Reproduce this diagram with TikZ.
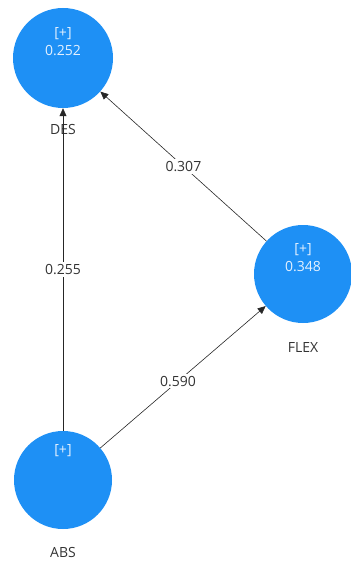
\documentclass[tikz,border=0pt]{standalone}
\usepackage{fontspec}
\setmainfont{Open Sans}
\usetikzlibrary{arrows.meta,positioning}
\definecolor{latentblue}{HTML}{1E90F5}
\definecolor{inwhite}{HTML}{E4F1FF}
\definecolor{labgray}{HTML}{333333}
\tikzset{
  latent/.style={
    circle, fill=latentblue, draw=none,
    minimum size=100pt, inner sep=0pt
  },
  intext/.style={
    font=\fontsize{14}{18}\selectfont, text=inwhite, align=center
  },
  namelabel/.style={
    font=\fontsize{14}{16}\selectfont, text=labgray
  },
  pathline/.style={
    -{Triangle[length=8pt,width=7pt]}, semithick, draw=black!85
  },
  coef/.style={
    fill=white, inner sep=2pt,
    font=\fontsize{14}{16}\selectfont, text=labgray
  },
}

\begin{document}
\begin{tikzpicture}[x=1pt,y=-1pt]
  \useasboundingbox (0,0) rectangle (350,561);
  % constructs
  \node[latent] (des) at (63,58) {};
  \node[latent, minimum size=98pt] (flex) at (303,274) {};
  \node[latent, minimum size=98pt] (abs) at (63,480) {};
  \node[intext] at ([yshift=16pt]des.center) {[+]\\[0pt]0.252};
  \node[intext] at ([yshift=16pt]flex.center) {[+]\\[0pt]0.348};
  \node[intext] at ([yshift=29pt]abs.center) {[+]};
  \node[namelabel, below=13pt of des.south] (desname) {DES};
  \node[namelabel, below=16pt of flex.south] (flexname) {FLEX};
  \node[namelabel, below=15pt of abs.south] (absname) {ABS};
  % paths
  \draw[pathline] (abs) -- node[coef] {0.255} (des);
  \draw[pathline] (abs) -- node[coef, pos=0.47] {0.590} (flex);
  \draw[pathline] (flex) -- node[coef] {0.307} (des);
\end{tikzpicture}
\end{document}
